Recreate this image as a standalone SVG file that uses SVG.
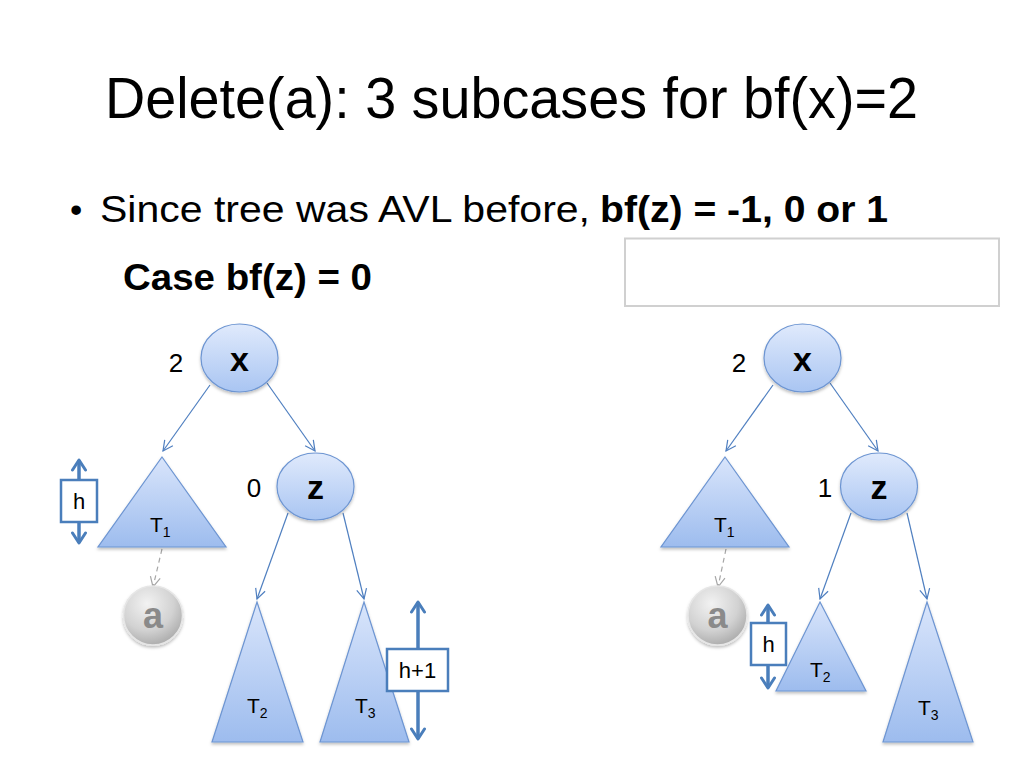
<svg xmlns="http://www.w3.org/2000/svg" width="1024" height="768" viewBox="0 0 1024 768">
  <defs>
    <linearGradient id="gNode" x1="0" y1="0" x2="0" y2="1">
      <stop offset="0" stop-color="#e0eafc"/>
      <stop offset="1" stop-color="#a9c5f2"/>
    </linearGradient>
    <linearGradient id="gTri" x1="0" y1="0" x2="0" y2="1">
      <stop offset="0" stop-color="#d9e5fb"/>
      <stop offset="1" stop-color="#9dbcee"/>
    </linearGradient>
    <radialGradient id="gA" cx="0.4" cy="0.3" r="0.75">
      <stop offset="0" stop-color="#f2f2f2"/>
      <stop offset="0.6" stop-color="#d2d2d2"/>
      <stop offset="1" stop-color="#a8a8a8"/>
    </radialGradient>
    <filter id="sh" x="-20%" y="-20%" width="140%" height="140%">
      <feDropShadow dx="0" dy="2" stdDeviation="1.5" flood-color="#000" flood-opacity="0.25"/>
    </filter>
    <marker id="ah" markerUnits="userSpaceOnUse" viewBox="0 0 12 12" refX="11" refY="6" markerWidth="12" markerHeight="12" orient="auto">
      <path d="M1,1 L11,6 L1,11" fill="none" stroke="#4f7fc0" stroke-width="1.2"/>
    </marker>
    <marker id="ahg" markerUnits="userSpaceOnUse" viewBox="0 0 12 12" refX="11" refY="6" markerWidth="12" markerHeight="12" orient="auto">
      <path d="M1,1 L11,6 L1,11" fill="none" stroke="#a6a6a6" stroke-width="1.2"/>
    </marker>
    <marker id="ahb" markerUnits="userSpaceOnUse" viewBox="0 0 14 16" refX="12" refY="8" markerWidth="14" markerHeight="16" orient="auto-start-reverse">
      <path d="M2,1.5 L12,8 L2,14.5" fill="none" stroke="#4a7ebb" stroke-width="3" stroke-linejoin="round" stroke-linecap="round"/>
    </marker>
  </defs>
  <style>
    .t { font-family: "Liberation Sans", Arial, sans-serif; fill: #000; }
    .b { font-weight: bold; }
    .node { fill: url(#gNode); stroke: #6d95d2; stroke-width: 1.2; filter: url(#sh); }
    .tri { fill: url(#gTri); stroke: #6d95d2; stroke-width: 1.2; filter: url(#sh); }
    .edge { stroke: #4f7fc0; stroke-width: 1.2; fill: none; marker-end: url(#ah); }
    .dash { stroke: #a6a6a6; stroke-width: 1.2; fill: none; stroke-dasharray: 5 4; marker-end: url(#ahg); }
    .dim { stroke: #4a7ebb; stroke-width: 3.5; fill: none; marker-start: url(#ahb); marker-end: url(#ahb); }
    .box { fill: #fff; stroke: #4a7ebb; stroke-width: 2.5; }
    .anode { fill: url(#gA); stroke: #e6e6e6; stroke-width: 1.5; filter: url(#sh); }
    .atxt { font-family: "Liberation Sans", Arial, sans-serif; font-weight: bold; fill: #8a8a8a; font-size: 36px; }
    .lbl { font-size: 21px; }
    .hl { font-size: 22px; }
    .num { font-size: 26px; }
    .nl { font-size: 34px; font-weight: bold; }
  </style>
  <rect width="1024" height="768" fill="#fff"/>

  <g id="title">
    <text class="t" x="105" y="118" font-size="57" textLength="813" lengthAdjust="spacingAndGlyphs">Delete(a): 3 subcases for bf(x)=2</text>
  </g>
  <g id="bullet">
    <text class="t" x="70" y="222" font-size="35">•</text>
    <text class="t" x="100" y="222" font-size="36" textLength="490" lengthAdjust="spacingAndGlyphs">Since tree was AVL before,</text>
    <text class="t b" x="600" y="222" font-size="36" textLength="288" lengthAdjust="spacingAndGlyphs">bf(z) = -1, 0 or 1</text>
    <text class="t b" x="123" y="290" font-size="36" textLength="249" lengthAdjust="spacingAndGlyphs">Case bf(z) = 0</text>
  </g>
  <g id="emptybox">
    <rect x="625" y="238.5" width="374" height="67.5" fill="#fff" stroke="#d0d0d0" stroke-width="2"/>
  </g>

  <g id="connectors">
    <line class="edge" x1="210" y1="385" x2="163" y2="451"/>
    <line class="edge" x1="267" y1="383" x2="315" y2="451"/>
    <line class="edge" x1="288" y1="513" x2="257" y2="599"/>
    <line class="edge" x1="343" y1="513" x2="364" y2="599"/>
    <line class="dash" x1="162" y1="549" x2="153" y2="587"/>
    <line class="edge" x1="773" y1="385" x2="726" y2="451"/>
    <line class="edge" x1="830" y1="383" x2="878" y2="451"/>
    <line class="edge" x1="851" y1="513" x2="820" y2="599"/>
    <line class="edge" x1="907" y1="513" x2="927" y2="599"/>
    <line class="dash" x1="726" y1="549" x2="718" y2="587"/>
  </g>

  <!-- Left tree -->
  <g id="L-x">
    <ellipse class="node" cx="239.5" cy="358" rx="38.5" ry="34"/>
    <text class="t nl" x="239.5" y="371" text-anchor="middle">x</text>
    <text class="t num" x="176" y="372" text-anchor="middle">2</text>
  </g>
  <g id="L-z">
    <ellipse class="node" cx="315.5" cy="486.5" rx="38.5" ry="33.5"/>
    <text class="t nl" x="315.5" y="499" text-anchor="middle">z</text>
    <text class="t num" x="254" y="497" text-anchor="middle">0</text>
  </g>
  <g id="L-T1">
    <polygon class="tri" points="162,457 226,547 98,547"/>
    <text class="t lbl" x="150" y="532">T<tspan font-size="14" dy="5">1</tspan></text>
  </g>
  <g id="L-hbox">
    <line class="dim" x1="79" y1="460" x2="79" y2="543"/>
    <rect class="box" x="61" y="480" width="36" height="42"/>
    <text class="t hl" x="79" y="509" text-anchor="middle">h</text>
  </g>
  <g id="L-a">
    <circle class="anode" cx="153" cy="615.5" r="29.5"/>
    <text class="atxt" x="153" y="628" text-anchor="middle">a</text>
  </g>
  <g id="L-T2">
    <polygon class="tri" points="257,602 303,742 212,742"/>
    <text class="t lbl" x="247" y="713">T<tspan font-size="14" dy="5">2</tspan></text>
  </g>
  <g id="L-T3">
    <polygon class="tri" points="364,602 409,742 320,742"/>
    <text class="t lbl" x="355" y="713">T<tspan font-size="14" dy="5">3</tspan></text>
  </g>
  <g id="L-h1box">
    <line class="dim" x1="418" y1="602" x2="418" y2="739"/>
    <rect class="box" x="387" y="649" width="61" height="42"/>
    <text class="t hl" x="417.5" y="678" text-anchor="middle">h+1</text>
  </g>

  <!-- Right tree -->
  <g id="R-x">
    <ellipse class="node" cx="802.5" cy="358" rx="38.5" ry="34"/>
    <text class="t nl" x="802.5" y="371" text-anchor="middle">x</text>
    <text class="t num" x="739" y="372" text-anchor="middle">2</text>
  </g>
  <g id="R-z">
    <ellipse class="node" cx="879" cy="486.5" rx="38.5" ry="33.5"/>
    <text class="t nl" x="879" y="499" text-anchor="middle">z</text>
    <text class="t num" x="825" y="497" text-anchor="middle">1</text>
  </g>
  <g id="R-T1">
    <polygon class="tri" points="725,457 789,547 661,547"/>
    <text class="t lbl" x="714" y="532">T<tspan font-size="14" dy="5">1</tspan></text>
  </g>
  <g id="R-a">
    <circle class="anode" cx="717.5" cy="615.5" r="29.5"/>
    <text class="atxt" x="717.5" y="628" text-anchor="middle">a</text>
  </g>
  <g id="R-hbox">
    <line class="dim" x1="768" y1="605" x2="768" y2="688"/>
    <rect class="box" x="751" y="623" width="35" height="42"/>
    <text class="t hl" x="768.5" y="652" text-anchor="middle">h</text>
  </g>
  <g id="R-T2">
    <polygon class="tri" points="820,602 866,691 776,691"/>
    <text class="t lbl" x="810" y="677">T<tspan font-size="14" dy="5">2</tspan></text>
  </g>
  <g id="R-T3">
    <polygon class="tri" points="927,602 973,742 883,742"/>
    <text class="t lbl" x="918" y="715">T<tspan font-size="14" dy="5">3</tspan></text>
  </g>
</svg>
